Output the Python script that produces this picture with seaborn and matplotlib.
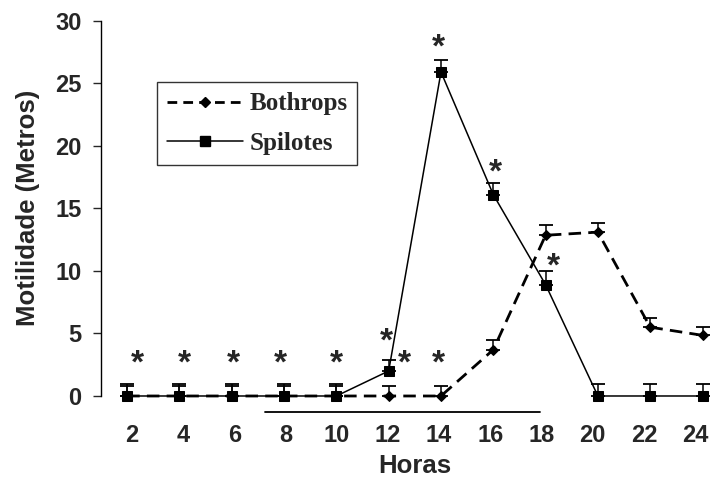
import numpy as np
import pandas as pd
import seaborn as sns
import matplotlib
matplotlib.use("Agg")
from matplotlib import pyplot as plt
from matplotlib.lines import Line2D
from matplotlib.transforms import offset_copy

# Data
horas = [2, 4, 6, 8, 10, 12, 14, 16, 18, 20, 22, 24]
bothrops = [0, 0, 0, 0, 0, 0, 0, 3.7, 12.85, 13.1, 5.5, 4.85]
bothrops_err = [0.8, 0.8, 0.8, 0.8, 0.8, 0.8, 0.8, 0.8, 0.8, 0.75, 0.7, 0.65]
spilotes = [0, 0, 0, 0, 0, 2.0, 25.9, 16.1, 8.9, 0, 0, 0]
spilotes_err = [0.95, 0.95, 0.95, 0.95, 0.95, 0.85, 1.0, 0.9, 1.1, 0.95, 0.95, 0.95]

# significance marks (hours, height)
star_horas = [2.4, 4.2, 6.05, 7.85, 10.0, 11.9, 12.6, 13.9, 13.9, 16.1, 18.3]
star_y = [3.3, 3.3, 3.3, 3.3, 3.3, 5.1, 3.3, 3.3, 28.6, 18.6, 11.1]

# dark period bar below the axis
escuro_horas = [7.27, 17.8]

sns.set_style("white")
plt.rcParams['font.family'] = ['Liberation Sans', 'DejaVu Sans']

# positions on the categorical axis
def pos(h):
    return (np.asarray(h, dtype=float) - 2) / 2

df = pd.DataFrame({
    'pos': np.concatenate([pos(horas), pos(horas)]),
    'valor': bothrops + spilotes,
    'serie': ['Bothrops'] * len(horas) + ['Spilotes'] * len(horas),
})

fig = plt.figure(figsize=(7.12, 4.79), dpi=100)
ax = fig.add_axes([0.1419, 0.1733, 0.8815, 0.7834])

sns.lineplot(data=df[df.serie == 'Bothrops'], x='pos', y='valor', ax=ax,
             color='black', lw=2.0, marker='D', markersize=5,
             markeredgecolor='black', clip_on=False, legend=False)
ax.lines[-1].set_dashes((4.5, 2.6))
sns.lineplot(data=df[df.serie == 'Spilotes'], x='pos', y='valor', ax=ax,
             color='black', lw=1.1, marker='s', markersize=6.5,
             markeredgecolor='black', clip_on=False, legend=False)

ax.errorbar(pos(horas), bothrops, yerr=[np.zeros(len(horas)), bothrops_err],
            fmt='none', ecolor='black', elinewidth=1.1, capsize=5,
            capthick=1.3, clip_on=False)
ax.errorbar(pos(horas), spilotes, yerr=[np.zeros(len(horas)), spilotes_err],
            fmt='none', ecolor='black', elinewidth=1.1, capsize=5,
            capthick=1.3, clip_on=False)

# asterisks: baseline shifted down so the glyph centre sits on the value
star_tr = offset_copy(ax.transData, fig=fig, y=-13, units='points')
for h, y in zip(star_horas, star_y):
    ax.text(pos(h), y, '*', ha='center', va='baseline', fontsize=24,
            fontweight='bold', transform=star_tr, clip_on=False)

ax.plot(pos(escuro_horas), [-1.28, -1.28], color='black', lw=1.3,
        clip_on=False)

ax.set_xlim(-0.5, 11.5)
ax.set_ylim(0, 30)
# tick labels sit on a slightly tighter spacing than the points
ax.set_xticks(0.09 + 0.979 * pos(horas))
ax.set_xticklabels([str(h) for h in horas])
ax.set_yticks(range(0, 31, 5))
for sp in ['top', 'right', 'bottom']:
    ax.spines[sp].set_visible(False)
ax.spines['left'].set_color('black')
ax.spines['left'].set_linewidth(1.0)
ax.tick_params(axis='x', length=0, pad=20.5, labelsize=17)
ax.tick_params(axis='y', length=6, width=1, direction='out', left=True,
               pad=8, labelsize=17)
for lab in ax.get_xticklabels() + ax.get_yticklabels():
    lab.set_fontweight('bold')

ax.set_xlabel('Horas', fontsize=18.5, fontweight='bold', labelpad=4.5)
ax.set_ylabel('Motilidade (Metros)', fontsize=18.5, fontweight='bold',
              labelpad=11)

handles = [
    Line2D([], [], color='black', lw=2.0, dashes=(3.5, 2.2), marker='D',
           markersize=5),
    Line2D([], [], color='black', lw=1.1, marker='s', markersize=6.5),
]
leg = ax.legend(handles, ['Bothrops', 'Spilotes'], loc='upper left',
                bbox_to_anchor=(0.0892, 0.836), borderaxespad=0,
                frameon=True, fancybox=False, edgecolor='black',
                handlelength=3.05, handletextpad=0.24, borderpad=0.4,
                labelspacing=0.65,
                prop={'family': 'Liberation Serif', 'weight': 'bold',
                      'size': 18})
leg.get_frame().set_linewidth(1.0)

fig.savefig('out.png', dpi=100)
